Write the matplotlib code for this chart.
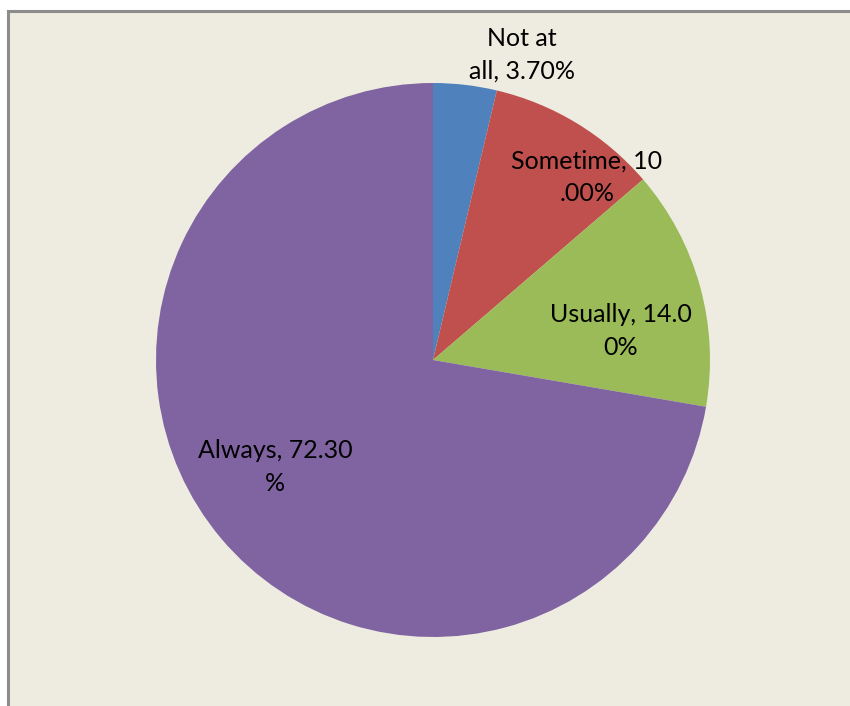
import matplotlib.pyplot as plt
from matplotlib.patches import Rectangle

labels = ['Not at\nall, 3.70%', 'Sometime, 10\n.00%', 'Usually, 14.0\n0%', 'Always, 72.30\n%']
values = [3.7, 10.0, 14.0, 72.3]
colors = ['#4F81BD', '#C0504D', '#9BBB59', '#8064A2']

# label positions in pie units (radius = 1)
label_pos = [(0.321, 1.101), (0.556, 0.661), (0.678, 0.105), (-0.570, -0.386)]

plt.rcParams['font.family'] = ['Lato', 'DejaVu Sans']

fig = plt.figure(figsize=(8.5, 7.06), dpi=100)
fig.patch.set_facecolor('white')

# chart area frame
W, H = 850, 706
frame = Rectangle((8 / W, -0.05), 1.1, (706 - 11) / H + 0.05, transform=fig.transFigure,
                  facecolor='#EEECE1', edgecolor='#8C8C8C', linewidth=2.2, zorder=-10)
fig.patches.append(frame)

cx, cy, r = 433, 360, 277
ax = fig.add_axes([(cx - r) / W, (H - cy - r) / H, 2 * r / W, 2 * r / H])
ax.set_zorder(5)
ax.set_facecolor('none')
ax.pie(values, colors=colors, startangle=90, counterclock=False, radius=1,
       wedgeprops=dict(linewidth=0))
ax.set_xlim(-1, 1)
ax.set_ylim(-1, 1)
ax.set_aspect('equal')
ax.axis('off')

for lab, (x, y) in zip(labels, label_pos):
    ax.text(x, y, lab, ha='center', va='center', fontsize=18, color='#000000',
            linespacing=1.5, clip_on=False)

fig.savefig('out.png', dpi=100)
